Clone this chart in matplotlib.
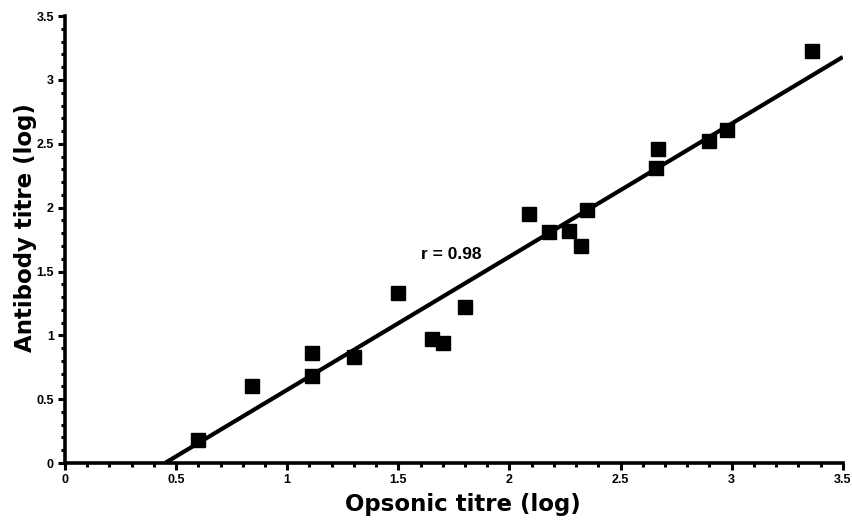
import matplotlib
matplotlib.use("Agg")
import matplotlib.pyplot as plt
from matplotlib.ticker import MultipleLocator

# opsonic titre (log) vs antibody titre (log)
opsonic = [0.60, 0.84, 1.11, 1.11, 1.30, 1.50, 1.65, 1.70, 1.80, 2.09,
           2.18, 2.27, 2.32, 2.35, 2.66, 2.67, 2.90, 2.98, 3.36]
antibody = [0.18, 0.60, 0.86, 0.68, 0.83, 1.33, 0.97, 0.94, 1.22, 1.95,
            1.81, 1.82, 1.70, 1.98, 2.31, 2.46, 2.52, 2.61, 3.23]

# regression line end points
fit_x = [0.45, 3.5]
fit_y = [0.0, 3.18]

tick_vals = [0, 0.5, 1, 1.5, 2, 2.5, 3, 3.5]
tick_labels = ["0", "0.5", "1", "1.5", "2", "2.5", "3", "3.5"]

plt.rcParams["font.family"] = ["Liberation Sans", "DejaVu Sans"]

fig = plt.figure(figsize=(8.53, 5.21), dpi=100)
ax = fig.add_axes([0.0762, 0.1113, 0.9118, 0.8577])

ax.plot(fit_x, fit_y, color="black", lw=3.0, solid_capstyle="butt", zorder=2)
ax.plot(opsonic, antibody, ls="none", marker="s", ms=9.5, color="black", zorder=3)

ax.text(1.60, 1.63, "r = 0.98", fontsize=12.5, fontweight="bold", va="center", ha="left")

ax.set_xlim(0, 3.5)
ax.set_ylim(0, 3.5)
ax.set_xticks(tick_vals)
ax.set_xticklabels(tick_labels)
ax.set_yticks(tick_vals)
ax.set_yticklabels(tick_labels)
ax.xaxis.set_minor_locator(MultipleLocator(0.1))
ax.yaxis.set_minor_locator(MultipleLocator(0.1))

for side in ("top", "right"):
    ax.spines[side].set_visible(False)
for side in ("left", "bottom"):
    ax.spines[side].set_linewidth(2.6)

ax.tick_params(which="major", length=5, width=2.2, labelsize=9, pad=3)
ax.tick_params(which="minor", length=3, width=2.2)
for lab in ax.get_xticklabels() + ax.get_yticklabels():
    lab.set_fontweight("bold")

# the axis titles are in a wide, heavy face
ax.set_xlabel("Opsonic titre (log)", fontsize=16.5, fontweight="bold",
              family="DejaVu Sans")
ax.set_ylabel("Antibody titre (log)", fontsize=16.5, fontweight="bold",
              family="DejaVu Sans")
ax.xaxis.set_label_coords(0.512, -0.068)
ax.yaxis.set_label_coords(-0.036, 0.526)

fig.savefig("out.png", dpi=100)
